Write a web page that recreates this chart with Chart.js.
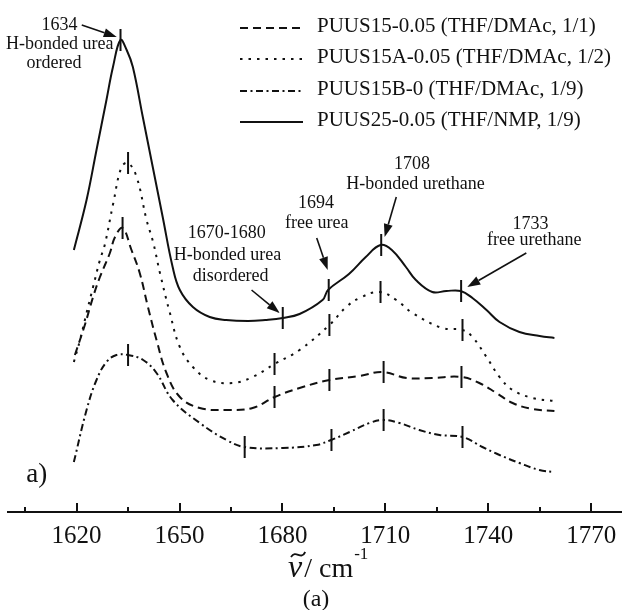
<!DOCTYPE html>
<html>
<head>
<meta charset="utf-8">
<script src="https://cdn.jsdelivr.net/npm/chart.js@4"></script>
<style>
  html, body { margin: 0; padding: 0; background: #fff; }
  #wrap { width: 622px; height: 610px; position: relative; }
</style>
</head>
<body>
<div id="wrap"><canvas id="chart"></canvas></div>
<script>
// ============================================================
// FTIR carbonyl region — four offset spectra
// ============================================================

// ── Axis ticks (wavenumber, cm-1) ──
const xTicksMajor = [1620, 1650, 1680, 1710, 1740, 1770];
const xTicksMinor = [1605, 1635, 1665, 1695, 1725, 1755];

// ── Legend names ──
const seriesNames = [
    'PUUS15-0.05 (THF/DMAc, 1/1)',
    'PUUS15A-0.05 (THF/DMAc, 1/2)',
    'PUUS15B-0 (THF/DMAc, 1/9)',
    'PUUS25-0.05 (THF/NMP, 1/9)',
];

// ── Spectra (wavenumber / offset absorbance, a.u.) ──
const nuDashed  = [1619.5, 1622.4, 1624.8, 1626.8, 1629.7, 1631.2, 1633.4, 1636.0, 1638.4, 1640.8, 1643.3, 1646.2, 1650.1, 1655.9, 1663.7, 1671.3, 1677.7, 1685.0, 1693.7, 1702.5, 1709.2, 1716.2, 1723.7, 1732.1, 1737.4, 1742.4, 1747.1, 1752.9, 1759.3];
const absDashed = [1.57, 1.87, 2.15, 2.35, 2.59, 2.75, 2.84, 2.62, 2.39, 2.05, 1.72, 1.39, 1.15, 1.04, 1.02, 1.04, 1.15, 1.24, 1.32, 1.36, 1.40, 1.34, 1.34, 1.35, 1.29, 1.19, 1.09, 1.03, 1.01];

const nuDotted  = [1619.2, 1621.0, 1622.9, 1624.8, 1626.8, 1628.2, 1630.7, 1633.1, 1635.0, 1637.5, 1640.4, 1642.3, 1644.3, 1647.2, 1650.1, 1653.9, 1658.8, 1665.5, 1671.3, 1677.7, 1685.0, 1693.7, 1698.6, 1702.5, 1708.3, 1713.2, 1717.9, 1726.6, 1732.5, 1735.4, 1739.5, 1743.3, 1747.1, 1752.9, 1759.3];
const absDotted = [1.50, 1.72, 1.99, 2.25, 2.52, 2.67, 3.09, 3.45, 3.49, 3.35, 2.92, 2.70, 2.39, 1.99, 1.65, 1.45, 1.32, 1.29, 1.35, 1.48, 1.62, 1.87, 2.05, 2.14, 2.20, 2.12, 1.99, 1.84, 1.82, 1.75, 1.55, 1.35, 1.22, 1.14, 1.11];

const nuDashDot  = [1619.2, 1622.9, 1625.8, 1628.7, 1631.6, 1635.0, 1639.4, 1643.3, 1648.0, 1655.9, 1663.7, 1669.0, 1680.1, 1689.9, 1694.2, 1699.6, 1705.4, 1709.3, 1714.1, 1719.9, 1725.8, 1732.5, 1738.3, 1743.3, 1749.1, 1754.9, 1759.3];
const absDashDot = [0.50, 1.02, 1.32, 1.50, 1.57, 1.57, 1.52, 1.39, 1.12, 0.89, 0.72, 0.65, 0.64, 0.67, 0.72, 0.80, 0.89, 0.92, 0.89, 0.82, 0.77, 0.75, 0.65, 0.57, 0.49, 0.42, 0.40];

const nuSolid  = [1619.2, 1622.9, 1625.8, 1628.7, 1630.6, 1632.8, 1634.6, 1636.4, 1639.3, 1642.2, 1645.1, 1648.0, 1650.1, 1653.9, 1658.8, 1663.6, 1670.0, 1675.0, 1680.1, 1685.0, 1691.7, 1693.3, 1699.4, 1704.3, 1708.6, 1711.9, 1716.0, 1718.9, 1723.7, 1727.8, 1732.0, 1735.4, 1739.5, 1743.3, 1749.1, 1755.0, 1759.3];
const absSolid = [2.62, 3.12, 3.62, 4.12, 4.45, 4.72, 4.62, 4.45, 3.95, 3.45, 2.95, 2.45, 2.22, 2.05, 1.95, 1.92, 1.91, 1.92, 1.94, 1.98, 2.12, 2.22, 2.38, 2.55, 2.67, 2.62, 2.45, 2.32, 2.20, 2.21, 2.21, 2.14, 2.02, 1.90, 1.80, 1.76, 1.74];

// ── Band position markers (short vertical bars on each curve) ──
const markNuDashed   = [1633.4, 1677.7, 1693.7, 1709.5, 1732.2];
const markAbsDashed  = [2.84, 1.15, 1.32, 1.40, 1.35];
const markNuDotted   = [1635.0, 1677.7, 1693.7, 1708.6, 1732.5];
const markAbsDotted  = [3.49, 1.48, 1.87, 2.20, 1.82];
const markNuDashDot  = [1635.0, 1669.0, 1694.3, 1709.5, 1732.5];
const markAbsDashDot = [1.57, 0.65, 0.72, 0.92, 0.75];
const markNuSolid    = [1632.8, 1680.1, 1693.5, 1708.8, 1732.1];
const markAbsSolid   = [4.72, 1.94, 2.22, 2.67, 2.21];

// ── Band assignments (text in data coords) ──
const noteLines = [
    { text: '1634', x: 1615.0, y: 4.87 },
    { text: 'H-bonded urea', x: 1615.1, y: 4.68 },
    { text: 'ordered', x: 1613.4, y: 4.49 },
    { text: '1670-1680', x: 1663.8, y: 2.79 },
    { text: 'H-bonded urea', x: 1664.0, y: 2.57 },
    { text: 'disordered', x: 1664.9, y: 2.36 },
    { text: '1694', x: 1689.8, y: 3.09 },
    { text: 'free urea', x: 1690.0, y: 2.89 },
    { text: '1708', x: 1717.8, y: 3.48 },
    { text: 'H-bonded urethane', x: 1718.8, y: 3.28 },
    { text: '1733', x: 1752.3, y: 2.88 },
    { text: 'free urethane', x: 1753.4, y: 2.72 },
];
const noteArrows = [
    { x0: 1621.5, y0: 4.87, x1: 1631.7, y1: 4.75 },
    { x0: 1671.0, y0: 2.22, x1: 1679.2, y1: 1.99 },
    { x0: 1690.0, y0: 2.74, x1: 1693.2, y1: 2.42 },
    { x0: 1713.2, y0: 3.15, x1: 1709.8, y1: 2.75 },
    { x0: 1751.1, y0: 2.59, x1: 1733.9, y1: 2.25 },
];

const serif = "'Liberation Serif', 'Times New Roman', serif";
const ink = '#111';

const toPoints = (xs, ys) => xs.map((v, i) => ({ x: v, y: ys[i] }));

function curve(label, xs, ys, dash) {
    return {
        label,
        data: toPoints(xs, ys),
        borderColor: ink,
        borderWidth: 2,
        borderDash: dash,
        pointRadius: 0,
        tension: 0.4,
        fill: false,
    };
}

function marks(xs, ys) {
    return {
        type: 'scatter',
        label: '',
        data: toPoints(xs, ys),
        pointStyle: 'line',
        rotation: 90,
        pointRadius: 11,
        pointBorderWidth: 2,
        borderColor: ink,
        backgroundColor: ink,
        showLine: false,
    };
}

const dashStyles = [[8, 5], [2.5, 6], [7, 3.5, 2, 3.5], []];

// ── Custom drawing: inward ticks, notes, arrows, legend, axis title ──
const decorPlugin = {
    id: 'decor',
    afterDraw(chart) {
        const { ctx, chartArea, scales: { x, y } } = chart;
        const bottom = chartArea.bottom;
        ctx.save();
        ctx.strokeStyle = ink;
        ctx.fillStyle = ink;
        ctx.lineWidth = 2;
        ctx.setLineDash([]);

        // ticks pointing up into the plot
        xTicksMajor.forEach(v => {
            const px = Math.round(x.getPixelForValue(v));
            ctx.beginPath(); ctx.moveTo(px, bottom); ctx.lineTo(px, bottom - 9); ctx.stroke();
        });
        xTicksMinor.forEach(v => {
            const px = Math.round(x.getPixelForValue(v));
            ctx.beginPath(); ctx.moveTo(px, bottom); ctx.lineTo(px, bottom - 5); ctx.stroke();
        });

        // band notes
        ctx.font = `18px ${serif}`;
        ctx.textAlign = 'center';
        ctx.textBaseline = 'middle';
        noteLines.forEach(n => {
            ctx.fillText(n.text, x.getPixelForValue(n.x), y.getPixelForValue(n.y));
        });

        // arrows
        ctx.lineWidth = 1.6;
        noteArrows.forEach(a => {
            const x0 = x.getPixelForValue(a.x0), y0 = y.getPixelForValue(a.y0);
            const x1 = x.getPixelForValue(a.x1), y1 = y.getPixelForValue(a.y1);
            const ang = Math.atan2(y1 - y0, x1 - x0);
            const head = 13, half = 4.5;
            const bx = x1 - head * Math.cos(ang), by = y1 - head * Math.sin(ang);
            ctx.beginPath(); ctx.moveTo(x0, y0); ctx.lineTo(bx, by); ctx.stroke();
            ctx.beginPath();
            ctx.moveTo(x1, y1);
            ctx.lineTo(bx + half * Math.sin(ang), by - half * Math.cos(ang));
            ctx.lineTo(bx - half * Math.sin(ang), by + half * Math.cos(ang));
            ctx.closePath();
            ctx.fill();
        });

        // legend
        const rowsLine = [28, 59, 91, 122];
        ctx.font = `21px ${serif}`;
        ctx.textAlign = 'left';
        ctx.lineWidth = 2;
        seriesNames.forEach((name, i) => {
            const ds = chart.data.datasets[i];
            ctx.setLineDash(ds.borderDash || []);
            ctx.beginPath(); ctx.moveTo(240, rowsLine[i]); ctx.lineTo(303, rowsLine[i]); ctx.stroke();
            ctx.setLineDash([]);
            ctx.fillText(name, 317, rowsLine[i] - 2);
        });

        // panel tag
        ctx.font = `27px ${serif}`;
        ctx.textAlign = 'center';
        ctx.fillText('a)', x.getPixelForValue(1608.4), y.getPixelForValue(0.37));

        // axis title: nu-tilde / cm-1
        ctx.textBaseline = 'alphabetic';
        ctx.textAlign = 'left';
        const base = 577;
        let tx = 288;
        ctx.font = `italic 32px ${serif}`;
        ctx.fillText('\u03bd', tx, base);
        const nuW = ctx.measureText('\u03bd').width;
        ctx.lineWidth = 1.8;
        ctx.beginPath();
        ctx.moveTo(tx + 3, base - 20);
        ctx.bezierCurveTo(tx + 8, base - 28, tx + 13, base - 16, tx + nuW + 3, base - 25);
        ctx.stroke();
        tx += nuW + 2;
        ctx.font = `28px ${serif}`;
        ctx.fillText('/ cm', tx, base);
        tx += ctx.measureText('/ cm').width + 1;
        ctx.font = `17px ${serif}`;
        ctx.fillText('-1', tx, base - 18);

        // caption
        ctx.font = `24px ${serif}`;
        ctx.textAlign = 'center';
        ctx.fillText('(a)', 316, 606);

        ctx.restore();
    }
};

new Chart(document.getElementById('chart'), {
    type: 'line',
    data: {
        datasets: [
            curve(seriesNames[0], nuDashed, absDashed, dashStyles[0]),
            curve(seriesNames[1], nuDotted, absDotted, dashStyles[1]),
            curve(seriesNames[2], nuDashDot, absDashDot, dashStyles[2]),
            curve(seriesNames[3], nuSolid, absSolid, dashStyles[3]),
            marks(markNuDashed, markAbsDashed),
            marks(markNuDotted, markAbsDotted),
            marks(markNuDashDot, markAbsDashDot),
            marks(markNuSolid, markAbsSolid),
        ]
    },
    options: {
        responsive: true,
        maintainAspectRatio: false,
        animation: false,
        layout: {
            autoPadding: false,
            padding: { left: 8, right: 0, top: 12, bottom: 50 },
        },
        plugins: {
            legend: { display: false },
            tooltip: { enabled: false },
        },
        scales: {
            x: {
                type: 'linear',
                min: 1600,
                max: 1779,
                afterBuildTicks: scale => {
                    scale.ticks = xTicksMajor.map(v => ({ value: v }));
                },
                afterFit: scale => {
                    scale.paddingLeft = 0;
                    scale.paddingRight = 0;
                },
                grid: { display: false, drawTicks: false },
                border: { display: true, color: ink, width: 2 },
                ticks: {
                    autoSkip: false,
                    maxRotation: 0,
                    padding: 9,
                    color: ink,
                    font: { family: serif, size: 25 },
                    callback: v => String(v),
                },
            },
            y: {
                display: false,
                min: 0,
                max: 5,
            },
        },
    },
    plugins: [decorPlugin],
});
</script>
</body>
</html>
